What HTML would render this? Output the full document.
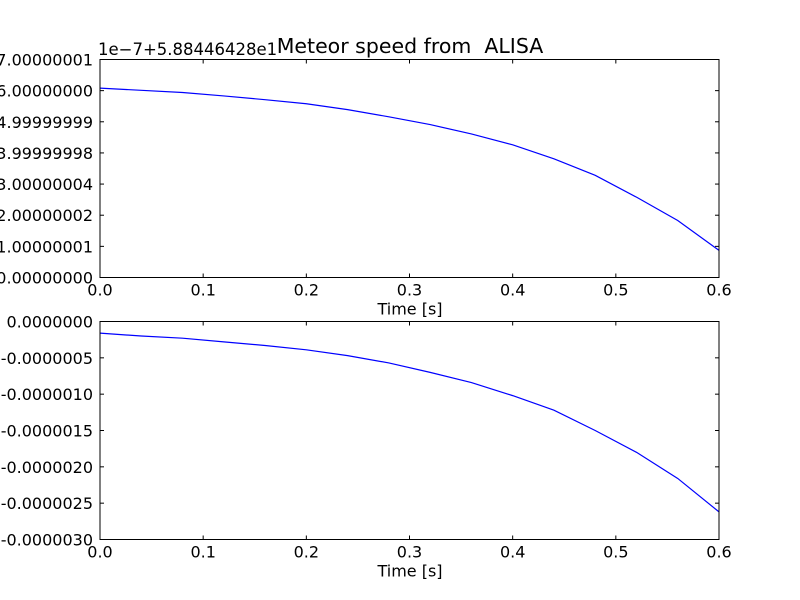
<!DOCTYPE html>
<html><head><meta charset="utf-8"><style>
html,body{margin:0;padding:0;background:#fff;width:800px;height:600px;overflow:hidden}
svg text{font-family:"DejaVu Sans","Liberation Sans",sans-serif;font-size:16px;fill:#000}
</style></head><body>
<svg id="c" width="800" height="600" xmlns="http://www.w3.org/2000/svg"></svg>
<script>
const times=[0,0.04,0.08,0.12,0.16,0.2,0.24,0.28,0.32,0.36,0.4,0.44,0.48,0.52,0.56,0.6];
const speedValues=[6.08,6.01,5.94,5.83,5.71,5.58,5.39,5.16,4.91,4.61,4.26,3.81,3.28,2.58,1.83,0.87];
const diffValues=[-0.16,-0.2,-0.23,-0.28,-0.33,-0.39,-0.47,-0.57,-0.70,-0.84,-1.02,-1.22,-1.50,-1.80,-2.16,-2.62];
const xTicks=[0,0.1,0.2,0.3,0.4,0.5,0.6];
const xTickLabels=["0.0","0.1","0.2","0.3","0.4","0.5","0.6"];
const topYTicks=[0,1,2,3,4,5,6,7];
const topYLabels=["0.00000000","1.00000001","2.00000002","3.00000004","3.99999998","4.99999999","6.00000000","7.00000001"];
const botYTicks=[0,-0.5,-1,-1.5,-2,-2.5,-3];
const botYLabels=["0.0000000","-0.0000005","-0.0000010","-0.0000015","-0.0000020","-0.0000025","-0.0000030"];
const NS="http://www.w3.org/2000/svg";
const svg=document.getElementById('c');
function mk(tag,attrs,parent){const e=document.createElementNS(NS,tag);for(const k in attrs)e.setAttribute(k,attrs[k]);(parent||svg).appendChild(e);return e;}
function panel(name,top,bottom,ymin,ymax,yt,yl,vals){
  const L=100,R=719;
  const g=mk('g',{});
  
  
  const sx=v=>L+(v-0)/(0.6-0)*(R-L);
  const sy=v=>bottom-(v-ymin)/(ymax-ymin)*(bottom-top);
  const d=times.map((t,i)=>(i?'L':'M')+sx(t).toFixed(2)+','+sy(vals[i]).toFixed(2)).join(' ');
  const p=mk('path',{d:d,fill:'none',stroke:'#0000ff','stroke-width':1.2},g);
  
  
  xTicks.forEach((v,i)=>{
    const x=sx(v);
    mk('line',{x1:x,y1:bottom,x2:x,y2:bottom-4,stroke:'#000'},g);
    mk('line',{x1:x,y1:top,x2:x,y2:top+4,stroke:'#000'},g);
    const t=mk('text',{x:x,y:bottom+18,'text-anchor':'middle'},g);
    t.textContent=xTickLabels[i];
    
    
  });
  yt.forEach((v,i)=>{
    const y=sy(v);
    mk('line',{x1:L,y1:y,x2:L+4,y2:y,stroke:'#000'},g);
    mk('line',{x1:R,y1:y,x2:R-4,y2:y,stroke:'#000'},g);
    const t=mk('text',{x:93,y:y+6,'text-anchor':'end'},g);
    t.textContent=yl[i];
    
    
  });
  const r=mk('rect',{x:L,y:top,width:R-L,height:bottom-top,fill:'none',stroke:'#000'},g);
  
  
  const xl=mk('text',{x:410,y:bottom+37,'text-anchor':'middle',style:'font-size:16px'},g);
  xl.textContent='Time [s]';
  
  
}
panel('speed-panel',59.5,277.5,0,7,topYTicks,topYLabels,speedValues);
panel('speed-diff-panel',321.5,539.5,-3,0,botYTicks,botYLabels,diffValues);
const title=mk('text',{x:410,y:53,'text-anchor':'middle',style:'font-size:20.5px'});
title.textContent='Meteor speed from \u00a0ALISA';


const off=mk('text',{x:98,y:55,style:'font-size:16.5px'});
off.textContent='1e\u22127+5.88446428e1';


</script>
</body></html>
